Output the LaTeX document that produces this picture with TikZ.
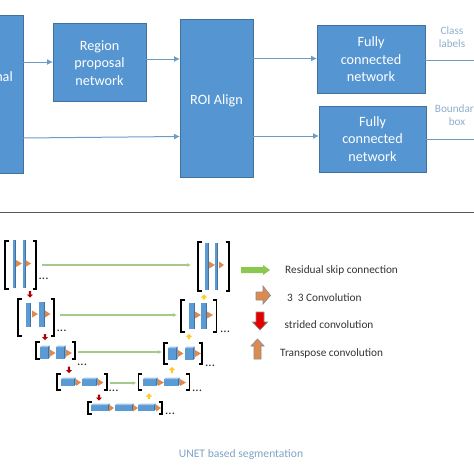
\documentclass[tikz,border=0pt]{standalone}
\usepackage{fontspec}
\setmainfont{Carlito}
\usetikzlibrary{arrows.meta}
\definecolor{boxblue}{HTML}{5596D2}
\definecolor{boxedge}{HTML}{41719C}
\definecolor{arrowblue}{HTML}{6C9BC8}
\definecolor{skipgreen}{HTML}{A6C88A}
\definecolor{legendgreen}{HTML}{8CC850}
\definecolor{convorange}{HTML}{DD8A50}
\definecolor{capblue}{HTML}{7FA3C4}
\definecolor{lblblue}{HTML}{8FAECB}
\definecolor{blockblue}{HTML}{5B9BD5}
\definecolor{blockdark}{HTML}{41719C}
\definecolor{blocklight}{HTML}{A3C6E6}
\definecolor{updark}{HTML}{FFC000}
\tikzset{
  bigbox/.style={draw=boxedge,line width=0.9pt,fill=boxblue,text=white,inner sep=0pt,outer sep=0pt,align=center,font=\fontsize{14.2}{17.4}\selectfont},
  flow/.style={draw=arrowblue,line width=1pt,-{Latex[length=6pt,width=6pt]}},
  plainflow/.style={draw=arrowblue,line width=1pt},
  skiptip/.style={draw=skipgreen,line width=1.1pt,-{Latex[length=4pt,width=4pt]}},
  lbl/.style={text=lblblue,align=center,inner sep=0pt,font=\fontsize{11.2}{13}\selectfont},
  legend/.style={text=black!80,inner sep=0pt,anchor=west,font=\fontsize{11.3}{13}\selectfont},
  brkbox/.style={inner sep=0pt,outer sep=0pt},
  dots/.style={inner sep=0pt,anchor=base west,text=black!85,font=\fontsize{13}{14}\selectfont},
  legarrow/.style={draw=black!45,line width=0.7pt,line join=miter},
}
% bracket pair: name, x1,y1,x2,y2
\newcommand{\brk}[5]{%
  \node[brkbox,minimum width={(#4-#2)*1pt},minimum height={(#5-#3)*1pt}] (#1) at ({(#2+#4)/2},{(#3+#5)/2}) {};
  \draw[line width=1.6pt,black] ({#2+3.5},#3) -- (#2,#3) -- (#2,#5) -- ({#2+3.5},#5);
  \draw[line width=1.6pt,black] ({#4-3.5},#3) -- (#4,#3) -- (#4,#5) -- ({#4-3.5},#5);
}
% flat bar
\newcommand{\flatbar}[4]{\fill[blockblue] (#1,#2) rectangle (#3,#4);\fill[blockdark] ({#3-1},#2) rectangle (#3,#4);}
% cuboid
\newcommand{\blk}[4]{%
  \fill[blockblue] (#1,#2) rectangle (#3,#4);
  \fill[blocklight] (#1,#2) -- ({#1+2},{#2-1.5}) -- ({#3+1.5},{#2-1.5}) -- (#3,#2) -- cycle;
  \fill[blockdark] (#3,#2) -- ({#3+1.5},{#2-1.5}) -- ({#3+1.5},{#4-1.5}) -- (#3,#4) -- cycle;
}
\newcommand{\tri}[3]{\fill[convorange] (#1,{#3-3.5}) -- (#2,#3) -- (#1,{#3+3.5}) -- cycle;}
\newcommand{\redar}[3]{\fill[red!70!black] ({#1-1.2},#2) -- ({#1+1.2},#2) -- ({#1+1.2},{#3-3}) -- ({#1+3.2},{#3-3}) -- (#1,#3) -- ({#1-3.2},{#3-3}) -- ({#1-1.2},{#3-3}) -- cycle;}
\newcommand{\yelar}[3]{\fill[updark!85!white] ({#1-1.2},#3) -- ({#1+1.2},#3) -- ({#1+1.2},{#2+3}) -- ({#1+3.2},{#2+3}) -- (#1,#2) -- ({#1-3.2},{#2+3}) -- ({#1-1.2},{#2+3}) -- cycle;}
\begin{document}
\begin{tikzpicture}[x=1pt,y=-1pt]
\useasboundingbox (0,0) rectangle (474,474);
\clip (0,0) rectangle (474,474);
% ---- top: boxes
\node[bigbox,minimum width=43pt,minimum height=158pt] (back) at (1.5,94) {};
\node[text=white,inner sep=0pt,anchor=east,font=\fontsize{14.2}{17}\selectfont] (backtxt) at (13,77) {nal};
\node[bigbox,minimum width=93pt,minimum height=78pt] (rpn) at (99.5,62) {};
\node[text=white,inner sep=0pt,align=center,font=\fontsize{14.2}{17.4}\selectfont] (rpntxt) at (99.5,63) {Region\\proposal\\network};
\node[bigbox,minimum width=73pt,minimum height=158pt] (roi) at (216.5,98) {};
\node[text=white,inner sep=0pt,font=\fontsize{14.2}{17}\selectfont] (roitxt) at (216.5,100.5) {ROI Align};
\node[bigbox,minimum width=108pt,minimum height=68pt] (fc1) at (371,59.5) {Fully\\connected\\network};
\node[bigbox,minimum width=107pt,minimum height=66pt] (fc2) at (372.5,139) {Fully\\connected\\network};
\coordinate (out1) at (474,60);
\coordinate (out2) at (474,139);
\draw[flow] (back.east |- 0,62) -- (rpn.west |- 0,62);
\draw[flow] (rpn.east |- 0,59) -- (roi.west |- 0,59);
\draw[flow] (back.east |- 0,138) -- (roi.west |- 0,136.5);
\draw[flow] (roi.east |- 0,58.5) -- (fc1.west |- 0,58.5);
\draw[flow] (roi.east |- 0,136) -- (fc2.west |- 0,136);
\draw[plainflow] (fc1.east |- out1) -- (out1);
\draw[plainflow] (fc2.east |- out2) -- (out2);
\node[lbl] (cls) at (452,37) {Class\\labels};
\node[lbl] (bnd) at (457,115) {Boundary\\box};
% ---- divider
\coordinate (divL) at (0,212.5);
\coordinate (divR) at (474,212.5);
\draw[line width=1pt,black!65] (divL) -- (divR);
% ---- unet: left branch
\brk{la}{5}{241}{36}{289}
\flatbar{13}{240}{16}{288}\flatbar{23}{240}{25.5}{288}
\tri{16}{22}{263.5}\tri{25.5}{31}{263.5}
\node[dots] (da) at (38.5,279) {...};
\redar{30}{291}{297.5}
\brk{lb}{18}{299}{54}{336}
\flatbar{25.5}{303}{31}{327}\flatbar{38.5}{302}{44.5}{327}
\tri{32}{38}{314}\tri{45}{50.5}{314}
\node[dots] (db) at (56.5,331) {...};
\redar{45}{334}{340}
\brk{lc}{36}{342}{75}{359}
\blk{40}{347}{48}{359}\blk{56}{347}{64}{359}
\tri{50}{55.5}{353}\tri{66}{72}{353}
\node[dots] (dc) at (77,365) {...};
\redar{69}{366.5}{373}
\brk{ld}{57}{374}{107}{390}
\blk{61}{379}{74}{386}\blk{82}{379}{96}{386}
\tri{76}{81}{382.5}\tri{98}{103.5}{382.5}
\node[dots] (dd) at (108.5,391) {...};
\redar{99}{394.5}{400.5}
% bottom
\brk{le}{88}{402}{162}{414}
\blk{91}{405}{108}{411}\blk{115}{405}{132}{411}\blk{138}{405}{154}{411}
\tri{109}{114}{408}\tri{133}{138}{408}\tri{156}{161}{408}
\node[dots] (de) at (165,414) {...};
% ---- unet: right branch
\brk{ra}{198}{242}{229}{291}
\flatbar{205}{243}{209}{290}\flatbar{215}{243}{218}{290}
\tri{209}{215}{265}\tri{219}{224}{265}
\yelar{204}{294.5}{299.5}
\brk{rb}{181}{300}{216.5}{332}
\flatbar{189}{303}{194.5}{329}\flatbar{201}{303}{207}{329}
\tri{195}{201}{315}\tri{207}{213}{315}
\node[dots] (dra) at (220,332) {...};
\yelar{189}{334}{339}
\brk{rc}{164}{343}{202}{364}
\blk{168}{348}{176}{360}\blk{185}{348}{193}{360}
\tri{178}{183.5}{353.5}\tri{195}{201}{353.5}
\node[dots] (drb) at (205,366) {...};
\yelar{172}{367}{373}
\brk{rd}{138.5}{374}{189.5}{390}
\blk{143}{379}{156}{386}\blk{164}{379}{178}{386}
\tri{158}{164}{382.5}\tri{180}{186}{382.5}
\node[dots] (drc) at (192,391) {...};
\yelar{149}{393.5}{399}
% ---- skip connections
\draw[skiptip,shorten >=7pt,shorten <=6pt] (la.east |- 0,265) -- (ra.west |- 0,265);
\draw[skiptip,shorten >=4pt,shorten <=6pt] (lb.east |- 0,315) -- (rb.west |- 0,315);
\draw[skiptip,shorten >=2pt,shorten <=3pt] (lc.east |- 0,352) -- (rc.west |- 0,352);
\draw[skiptip,shorten >=2pt,shorten <=3pt] (ld.east |- 0,383) -- (rd.west |- 0,383);
% ---- legend
\fill[legendgreen] (241,267) -- (263,267) -- (263,265) -- (270,270) -- (263,275) -- (263,273) -- (241,273) -- cycle;
\filldraw[legarrow,fill=convorange] (256,292) -- (263,292) -- (263,286) -- (270.5,295.5) -- (263,304) -- (263,300) -- (256,300) -- cycle;
\filldraw[legarrow,fill=red!90!black] (256,312) -- (264,312) -- (264,322) -- (267.5,322) -- (260,330) -- (252.5,322) -- (256,322) -- cycle;
\filldraw[legarrow,fill=convorange] (254,359) -- (261,359) -- (261,346) -- (264,346) -- (257.5,339) -- (251,346) -- (254,346) -- cycle;
\node[legend] (t1) at (285,270) {Residual skip connection};
\node[legend] (t2) at (287,298) {3\hspace{5pt}3 Convolution};
\node[legend] (t3) at (284.5,325) {strided convolution};
\node[legend] (t4) at (280,353) {Transpose convolution};
\node[text=capblue,inner sep=0pt,font=\fontsize{11.6}{13}\selectfont] (cap) at (241,454) {UNET based segmentation};
\end{tikzpicture}
\end{document}
